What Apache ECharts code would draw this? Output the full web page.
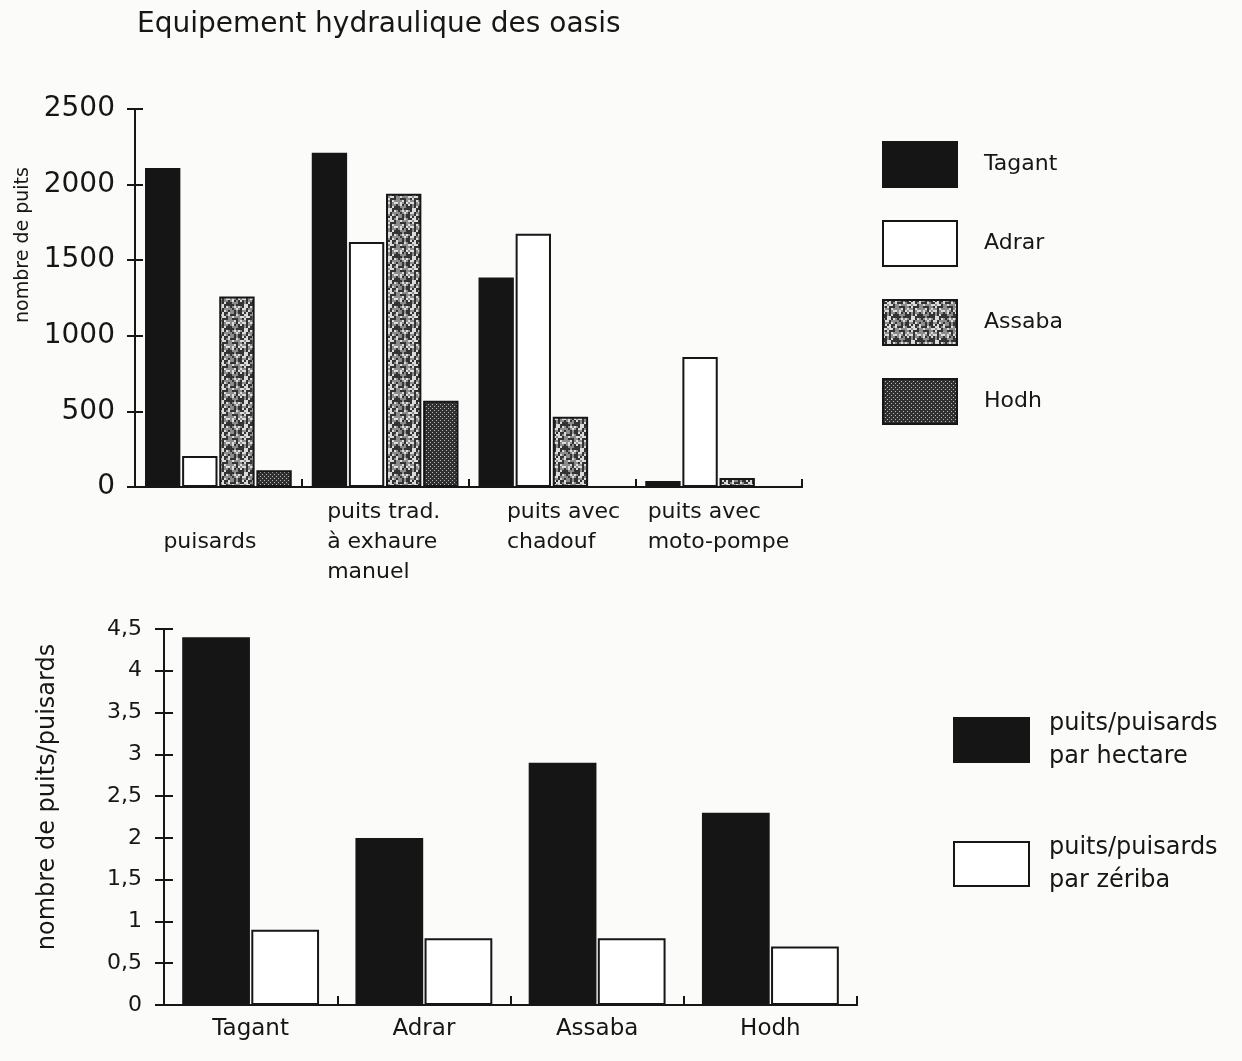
<!DOCTYPE html>
<html>
<head>
<meta charset="utf-8">
<script src="https://cdn.jsdelivr.net/npm/echarts@6/dist/echarts.min.js"></script>
<style>
  html, body { margin: 0; padding: 0; background: #fbfbfa; }
  #chart { width: 1242px; height: 1061px; }
</style>
</head>
<body>
<div id="chart"></div>
<script>
// Upper chart: number of wells by type and region
const travaux = ['puisards', 'puits trad.\nà exhaure\nmanuel', 'puits avec\nchadouf', 'puits avec\nmoto-pompe'];
const tagant = [2110, 2210, 1385, 40];
const adrar = [205, 1620, 1675, 860];
const assaba = [1260, 1940, 465, 60];
const hodh = [110, 570, null, null];

// Lower chart: wells per hectare / per zériba by region
const regions = ['Tagant', 'Adrar', 'Assaba', 'Hodh'];
const parHectare = [4.4, 2.0, 2.9, 2.3];
const parZeriba = [0.9, 0.8, 0.8, 0.7];

const ink = '#161616';
const font = 'DejaVu Sans';

// Deterministic integer hash used for the halftone textures
function hash(x, y) {
  let h = Math.imul(x, 73856093) ^ Math.imul(y, 19349663);
  h = Math.imul(h ^ (h >>> 13), 1274126177);
  h = h ^ (h >>> 16);
  return (h >>> 0) % 100;
}

// Mottled grey texture (Assaba)
function mottledTile() {
  const c = document.createElement('canvas');
  c.width = 24; c.height = 24;
  const ctx = c.getContext('2d');
  for (let i = 0; i < 12; i++) {
    for (let j = 0; j < 12; j++) {
      const v = hash(i + 3, j + 11);
      ctx.fillStyle = v < 40 ? '#333333' : (v < 68 ? '#8c8c8c' : '#dcdcdc');
      ctx.fillRect(i * 2, j * 2, 2, 2);
    }
  }
  return c;
}

// Dark dotted texture (Hodh)
function dottedTile() {
  const c = document.createElement('canvas');
  c.width = 4; c.height = 4;
  const ctx = c.getContext('2d');
  ctx.fillStyle = '#303030';
  ctx.fillRect(0, 0, 4, 4);
  ctx.fillStyle = '#b8b8b8';
  ctx.fillRect(0, 0, 1, 1);
  ctx.fillRect(2, 2, 1, 1);
  return c;
}

const assabaFill = { image: mottledTile(), repeat: 'repeat' };
const hodhFill = { image: dottedTile(), repeat: 'repeat' };

// Per-category label placement (left-aligned blocks under each group)
const labelPad = [60, 54, 80, 28];
const rich = {};
labelPad.forEach((p, i) => {
  rich['c' + i] = {
    width: 170, align: 'left', fontSize: 22, lineHeight: 30,
    fontFamily: font, color: ink,
    padding: [i === 0 ? 60 : 0, 0, 0, p]
  };
});

const tickStyle = { color: ink, width: 2 };

function barStyle(fill) {
  return { color: fill, borderColor: ink, borderWidth: 2 };
}

// Secondary axis used only to draw the inner half of each tick
function innerTicks(base, len) {
  return Object.assign({}, base, {
    axisLine: { show: true, lineStyle: tickStyle },
    axisTick: { show: true, inside: true, length: len, lineStyle: tickStyle },
    axisLabel: { show: false },
    splitLine: { show: false }
  });
}

const option = {
  backgroundColor: '#fbfbfa',
  animation: false,
  textStyle: { fontFamily: font, color: ink },
  title: {
    text: 'Equipement hydraulique des oasis',
    left: 132, top: 6,
    textStyle: { fontSize: 28, fontWeight: 'normal', color: ink, fontFamily: font }
  },
  legend: [
    {
      data: ['Tagant', 'Adrar', 'Assaba', 'Hodh'],
      orient: 'vertical', left: 882, top: 141,
      itemWidth: 74, itemHeight: 45, itemGap: 32, padding: 0,
      icon: 'rect', selectedMode: false,
      textStyle: { fontSize: 22, color: ink, fontFamily: font, padding: [0, 0, 0, 22] }
    },
    {
      data: ['puits/puisards par hectare', 'puits/puisards par zériba'],
      formatter: n => n.replace(' par ', '\npar '),
      orient: 'vertical', left: 953, top: 707,
      itemWidth: 75, itemHeight: 44, itemGap: 58, padding: 0,
      icon: 'rect', selectedMode: false,
      textStyle: { fontSize: 24, lineHeight: 33, color: ink, fontFamily: font, padding: [0, 0, 0, 15] }
    }
  ],
  grid: [
    { left: 135, right: 440, top: 109, bottom: 574 },
    { left: 164, right: 385, top: 629, bottom: 56 }
  ],
  xAxis: [
    {
      gridIndex: 0, type: 'category', data: travaux,
      axisLine: { lineStyle: tickStyle },
      axisTick: { length: 8, lineStyle: tickStyle },
      axisLabel: {
        interval: 0, margin: 10,
        formatter: (v, i) => v.split('\n').map(l => '{c' + i + '|' + l + '}').join('\n'),
        rich: rich
      }
    },
    innerTicks({ gridIndex: 0, type: 'category', data: travaux, position: 'bottom' }, 8),
    {
      gridIndex: 1, type: 'category', data: regions,
      axisLine: { lineStyle: tickStyle },
      axisTick: { length: 9, lineStyle: tickStyle },
      axisLabel: { interval: 0, margin: 13, fontSize: 23, color: ink, fontFamily: font }
    },
    innerTicks({ gridIndex: 1, type: 'category', data: regions, position: 'bottom' }, 9)
  ],
  yAxis: [
    {
      gridIndex: 0, type: 'value', min: 0, max: 2500, interval: 500,
      name: 'nombre de puits', nameLocation: 'middle', nameGap: 98,
      nameTextStyle: { fontSize: 19, color: ink, fontFamily: font, padding: [0, 0, 0, 106] },
      axisLine: { show: true, lineStyle: tickStyle },
      axisTick: { show: true, length: 8, lineStyle: tickStyle },
      axisLabel: { fontSize: 28, margin: 20, color: ink, fontFamily: font, formatter: v => String(v) },
      splitLine: { show: false }
    },
    innerTicks({ gridIndex: 0, type: 'value', min: 0, max: 2500, interval: 500, position: 'left' }, 8),
    {
      gridIndex: 1, type: 'value', min: 0, max: 4.5, interval: 0.5,
      name: 'nombre de puits/puisards', nameLocation: 'middle', nameGap: 104,
      nameTextStyle: { fontSize: 24, color: ink, fontFamily: font, padding: [0, 0, 0, 40] },
      axisLine: { show: true, lineStyle: tickStyle },
      axisTick: { show: true, length: 9, lineStyle: tickStyle },
      axisLabel: {
        fontSize: 22, margin: 22, color: ink, fontFamily: font,
        formatter: v => String(v).replace('.', ',')
      },
      splitLine: { show: false }
    },
    innerTicks({ gridIndex: 1, type: 'value', min: 0, max: 4.5, interval: 0.5, position: 'left' }, 9)
  ],
  series: [
    { name: 'Tagant', type: 'bar', xAxisIndex: 0, yAxisIndex: 0, data: tagant,
      barCategoryGap: '12%', barGap: '5%', itemStyle: barStyle('#151515') },
    { name: 'Adrar', type: 'bar', xAxisIndex: 0, yAxisIndex: 0, data: adrar,
      barCategoryGap: '12%', barGap: '5%', itemStyle: barStyle('#ffffff') },
    { name: 'Assaba', type: 'bar', xAxisIndex: 0, yAxisIndex: 0, data: assaba,
      barCategoryGap: '12%', barGap: '5%', itemStyle: barStyle(assabaFill) },
    { name: 'Hodh', type: 'bar', xAxisIndex: 0, yAxisIndex: 0, data: hodh,
      barCategoryGap: '12%', barGap: '5%', itemStyle: barStyle(hodhFill) },
    { name: 'puits/puisards par hectare', type: 'bar', xAxisIndex: 2, yAxisIndex: 2, data: parHectare,
      barCategoryGap: '21%', barGap: '2%', itemStyle: barStyle('#151515') },
    { name: 'puits/puisards par zériba', type: 'bar', xAxisIndex: 2, yAxisIndex: 2, data: parZeriba,
      barCategoryGap: '21%', barGap: '2%', itemStyle: barStyle('#ffffff') }
  ]
};

const chart = echarts.init(document.getElementById('chart'), null, { renderer: 'canvas' });
chart.setOption(option);
</script>
</body>
</html>
